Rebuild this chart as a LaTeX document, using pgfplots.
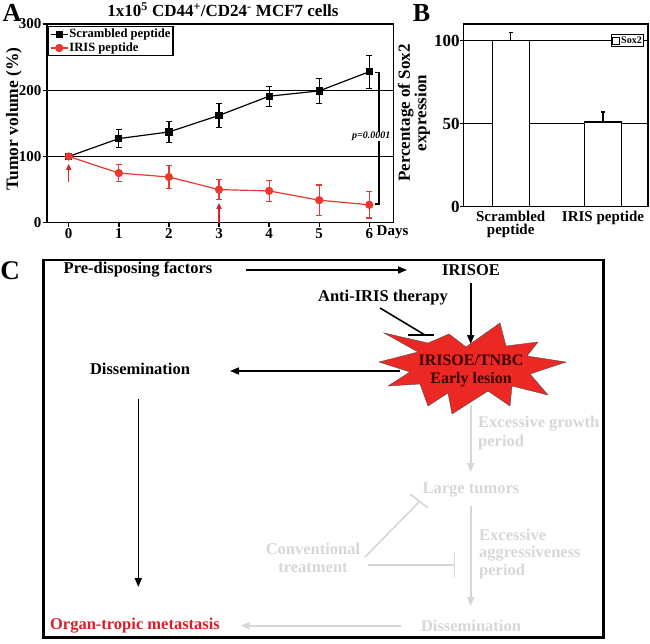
\documentclass[border=0pt]{standalone}
\usepackage{fontspec}
\setmainfont{Liberation Serif}
\usepackage{pgfplots}
\pgfplotsset{compat=1.18}
\usetikzlibrary{arrows.meta}
\definecolor{irisred}{RGB}{232,56,47}
\definecolor{arrred}{RGB}{210,35,45}
\definecolor{starred}{RGB}{236,40,36}
\definecolor{lgray}{RGB}{215,215,215}
\definecolor{orgred}{RGB}{220,30,40}
\definecolor{maroon}{RGB}{60,0,0}
\newcommand{\fs}[1]{\bfseries\fontsize{#1}{#1}\selectfont}
\begin{document}
\begin{tikzpicture}
\path[use as bounding box] (0pt,0pt) rectangle (650pt,-644pt);

% ---------------- Panel A ----------------
\begin{axis}[
  at={(68.7pt,-222.7pt)}, anchor=origin,
  x=50.1pt, y=0.6623pt, enlargelimits=false,
  xmin=-0.433, xmax=6.48, ymin=0, ymax=300,
  xtick={0,1,2,3,4,5,6}, ytick={0,100,200,300},
  tick pos=left, tick align=outside, major tick length=4.5pt,
  axis line style={line width=1.4pt},
  tick style={line width=1.4pt, black},
  ymajorgrids, major grid style={black, line width=1pt},
  /pgf/number format/assume math mode=true,
  ticklabel style={font=\fs{15}, inner sep=1pt},
  legend style={at={(rel axis cs:0.003,0.99)}, anchor=north west, draw=black,
    line width=1.2pt, font=\fs{12.6}, inner sep=1.5pt, row sep=1.5pt,
    nodes={inner sep=1pt}},
  legend cell align=left,
  clip=false,
]
\addplot[black, line width=1.2pt, mark=square*, mark size=3pt,
  error bars/.cd, y dir=both, y explicit,
  error bar style={line width=1.2pt, black},
  error mark options={rotate=90, mark size=3pt, line width=1.2pt, black}]
  table[x=x, y=y, y error=e] {
x y e
0 100 2
1 127 14
2 137 16
3 162 18
4 191 15
5 199 19
6 228 25
};
\addlegendentry{Scrambled peptide}
\addplot[irisred, line width=1.2pt, mark=*, mark size=3.5pt,
  error bars/.cd, y dir=both, y explicit,
  error bar style={line width=1.2pt, irisred},
  error mark options={rotate=90, mark size=3pt, line width=1.2pt, irisred}]
  table[x=x, y=y, y error=e] {
x y e
0 100 2
1 75 13
2 69 17
3 50 15
4 48 16
5 34 23
6 27 20
};
\addlegendentry{IRIS peptide}
\draw[-{Triangle[length=6pt,width=5pt]}, arrred, line width=1.4pt] (axis cs:0,62) -- (axis cs:0,89);
\draw[-{Triangle[length=6pt,width=5pt]}, arrred, line width=1.4pt] (axis cs:3,0) -- (axis cs:3,30);
\draw[line width=1.7pt] (axis cs:6.11,227) -- (axis cs:6.2,227) -- (axis cs:6.2,28) -- (axis cs:6.11,28);
\node[fill=white, inner sep=0.5pt, font=\bfseries\itshape\fontsize{10}{10}\selectfont] at (axis cs:6.04,130) {p=0.0001};
\end{axis}

% ---------------- Panel B ----------------
\begin{axis}[
  at={(510.7pt,-206.7pt)}, anchor=origin,
  x=92.3pt, y=1.661pt, enlargelimits=false,
  xmin=-0.514, xmax=1.487, ymin=0, ymax=110,
  xtick={0,1}, xticklabels={{Scrambled\\peptide},{IRIS peptide}},
  xticklabel style={align=center, font=\bfseries\fontsize{15}{13.5}\selectfont, inner sep=1pt},
  ytick={0,50,100},
  yticklabel style={font=\fs{17}, inner sep=0.5pt},
  xtick style={draw=none},
  ytick style={line width=1.4pt, black},
  tick pos=left, tick align=outside, major tick length=3pt,
  axis line style={line width=1.4pt},
  ymajorgrids, major grid style={black, line width=1.6pt},
  /pgf/number format/assume math mode=true,
  legend style={at={(rel axis cs:0.98,0.945)}, anchor=north east, draw=black,
    line width=1pt, font=\fs{10}, inner sep=1pt, nodes={inner sep=1pt}},
  legend image code/.code={\draw[black, line width=0.8pt, fill=white] (0pt,-3.5pt) rectangle (7pt,3.5pt);},
]
\addplot[ybar, bar width=37pt, fill=white, draw=black, line width=1.3pt,
  error bars/.cd, y dir=plus, y explicit,
  error bar style={line width=1.3pt, black},
  error mark options={rotate=90, mark size=2pt, line width=1.3pt, black}]
  coordinates {(0,100) +- (0,5) (1,51) +- (0,6)};
\addlegendentry{Sox2}
\end{axis}

% ---------------- Labels and panel C ----------------
\begin{scope}[x=1pt, y=-1pt]
\node[font=\fs{26}] at (12,13) {A};
\node[font=\fs{26}] at (421.5,13) {B};
\node[font=\fs{27}] at (10,271) {C};
\node[font=\fs{17}] at (223,10) {1x10\textsuperscript{5} CD44\textsuperscript{+}/CD24\textsuperscript{-} MCF7 cells};
\node[font=\fs{17.5}, rotate=90] at (14,119) {Tumor volume (\%)};
\node[font=\fs{15}, anchor=west, inner sep=0pt] at (376.5,232) {Days};
\node[font=\bfseries\fontsize{17}{15}\selectfont, rotate=90, align=center] at (414,113) {Percentage of Sox2\\expression};

% box
\draw[line width=2.8pt] (43.3,260) rectangle (603.3,637.5);

% black arrows
\begin{scope}[line width=1.6pt, -{Triangle[length=9pt,width=7pt]}]
\draw (246,270) -- (407,270);
\draw (470.7,283) -- (470.7,344);
\draw (400,371) -- (230,371);
\draw (138.3,399) -- (138.3,587);
\end{scope}
\draw[line width=1.6pt] (380,308) -- (425,335);
\draw[line width=1.6pt] (408,335) -- (434,335);

% gray flow
\begin{scope}[lgray, line width=1.6pt]
\draw[-{Triangle[length=9pt,width=7pt]}] (470.7,405) -- (470.7,472);
\draw[-{Triangle[length=9pt,width=7pt]}] (470.7,506) -- (470.7,606);
\draw[-{Triangle[length=9pt,width=7pt]}] (401,625.7) -- (240.7,625.7);
\draw (365,557) -- (420,501);
\draw (410,494) -- (428,508);
\draw (367.7,564.7) -- (454.3,564.7);
\draw (454.3,552) -- (454.3,577);
\end{scope}

% starburst
\filldraw[fill=starred, draw=black!70, line width=0.4pt]
 (379,362) -- (418,352) -- (384,333) -- (428,343) -- (449,334) -- (466,347) --
 (500,323) -- (506,346) -- (538,342) -- (527,356) -- (566,362) -- (530,374) --
 (548,395) -- (512,386) -- (510,406) -- (488,391) -- (452,414) -- (448,393) --
 (428,406) -- (420,384) -- (388,386) -- (410,372) -- cycle;
\node[font=\fs{16}, text=maroon] at (471,360) {IRISOE/TNBC};
\node[font=\fs{16}, text=maroon] at (471,380) {Early lesion};

% black text
\node[font=\fs{16.5}] at (138,270) {Pre-disposing factors};
\node[font=\fs{16.5}] at (471,270) {IRISOE};
\node[font=\fs{16.5}] at (383,298) {Anti-IRIS therapy};
\node[font=\fs{16.5}] at (140,369) {Dissemination};
\node[font=\fs{16.5}, text=orgred] at (135,626) {Organ-tropic metastasis};

% gray text
\node[font=\fs{16.5}, text=lgray, anchor=west, align=left, inner sep=0pt] at (478,433) {Excessive growth\\[2pt]period};
\node[font=\fs{16.5}, text=lgray] at (471,490) {Large tumors};
\node[font=\fs{16.5}, text=lgray, anchor=west, align=left, inner sep=0pt] at (479,554) {Excessive\\[1pt]aggressiveness\\[1pt]period};
\node[font=\fs{16.5}, text=lgray, align=center] at (313,558) {Conventional\\[2pt]treatment};
\node[font=\fs{16.5}, text=lgray] at (471,626) {Dissemination};
\end{scope}
\end{tikzpicture}
\end{document}
